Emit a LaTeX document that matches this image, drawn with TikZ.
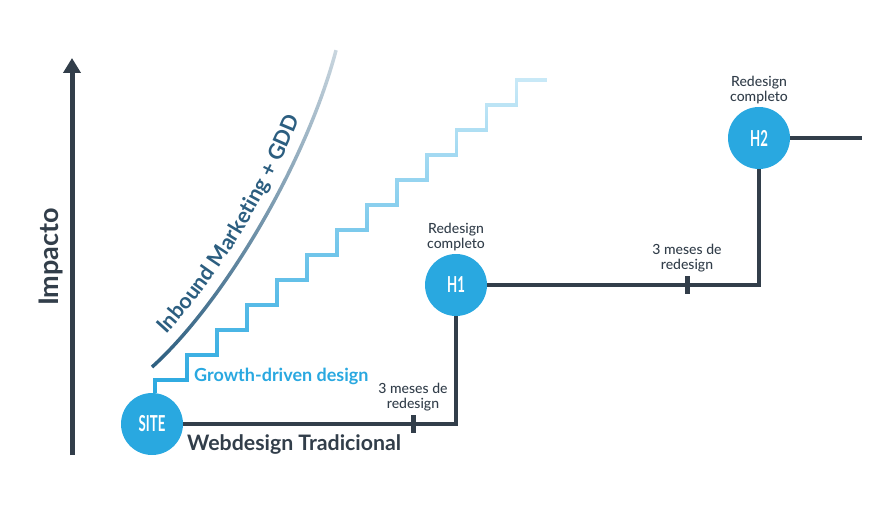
\documentclass[tikz,border=0pt]{standalone}
\usepackage{fontspec}
\setmainfont{Lato}
\IfFontExistsTF{Lato Medium}{\newfontfamily\medium{Lato Medium}}{\newfontfamily\medium{Lato}}
\usepackage{graphicx}
\usetikzlibrary{arrows.meta,calc,positioning,fadings,decorations.text}
\definecolor{slate}{RGB}{50,62,74}
\definecolor{siteblue}{RGB}{41,168,224}
\definecolor{gddblue}{RGB}{44,94,128}
\tikzfading[name=fadeup, bottom color=transparent!0, middle color=transparent!5, top color=transparent!75]
\tikzset{
    stage/.style={circle, fill=siteblue, minimum size=62pt, inner sep=0pt, text=white, font=\bfseries\fontsize{22}{22}\selectfont},
    timeline/.style={draw=slate, line width=4.5pt},
    tickmark/.style={draw=slate, line width=5pt},
    note/.style={text=slate, align=center, font=\medium\fontsize{14}{15}\selectfont, inner sep=1pt}
}
\newcommand{\cond}[1]{\scalebox{0.6}[1]{#1}}
\begin{document}
\begin{tikzpicture}[x=1pt,y=-1pt]
\useasboundingbox (0,0) rectangle (894,505);
% axis
\coordinate (ybot) at (72,455);
\coordinate (ytop) at (72,58);
\draw[slate, line width=5pt, -{Triangle[width=17pt,length=15pt]}] (ybot) -- (ytop);
\node[rotate=90, anchor=base, text=slate, font=\bfseries\fontsize{27}{27}\selectfont] (impacto) at (58,257) {Impacto};
% milestones
\node[stage] (site) at (152,424) {\cond{SITE}};
\node[stage] (h1) at (456,285) {\cond{H1}};
\node[stage] (h2) at (759,138) {\cond{H2}};
\coordinate (tick1) at (413,424);
\coordinate (tick2) at (687,285);
\coordinate (end) at (862,138);
% growth-driven design steps
\draw[siteblue, line width=3.3pt, path fading=fadeup] ($(site.north)+(3,0)$) |- (187,380)
    \foreach \k in {1,...,12}{ -- ++(0,-25) -- ++(30,0) };
% inbound curve
\draw[gddblue, line width=3.5pt, path fading=fadeup] (152,367) .. controls (222,304) and (306,164) .. (336,50);
\path[decorate, decoration={text along path, text align={left indent=33pt}, text color=gddblue,
    text={|\bfseries\fontsize{21.5}{21.5}\selectfont|Inbound Marketing + GDD}}]
    (143,358) .. controls (212.5,295.5) and (294.5,160) .. (324,46.5);
% traditional webdesign
\draw[timeline] (site.east) -| (h1.south);
\draw[timeline] (h1.east) -| (h2.south);
\draw[timeline] (h2.east) -- (end);
\draw[tickmark] ($(tick1)+(0,-9)$) -- ($(tick1)+(0,9)$);
\draw[tickmark] ($(tick2)+(0,-9)$) -- ($(tick2)+(0,9)$);
% labels
\node[note, above=3pt] (months1) at ($(tick1)+(0,-9)$) {3 meses de\\redesign};
\node[note, above=3pt] (months2) at ($(tick2)+(0,-9)$) {3 meses de\\redesign};
\node[note, above=2pt of h1] (full1) {Redesign\\completo};
\node[note, above=2pt of h2] (full2) {Redesign\\completo};
\node[anchor=base west, inner sep=0pt, text=slate, font=\bfseries\fontsize{21.3}{21.3}\selectfont] (trad) at (187,450) {Webdesign Tradicional};
\node[anchor=base west, inner sep=0pt, text=siteblue, font=\bfseries\fontsize{18}{18}\selectfont] (gdd) at (194,381) {Growth-driven design};
\end{tikzpicture}
\end{document}
